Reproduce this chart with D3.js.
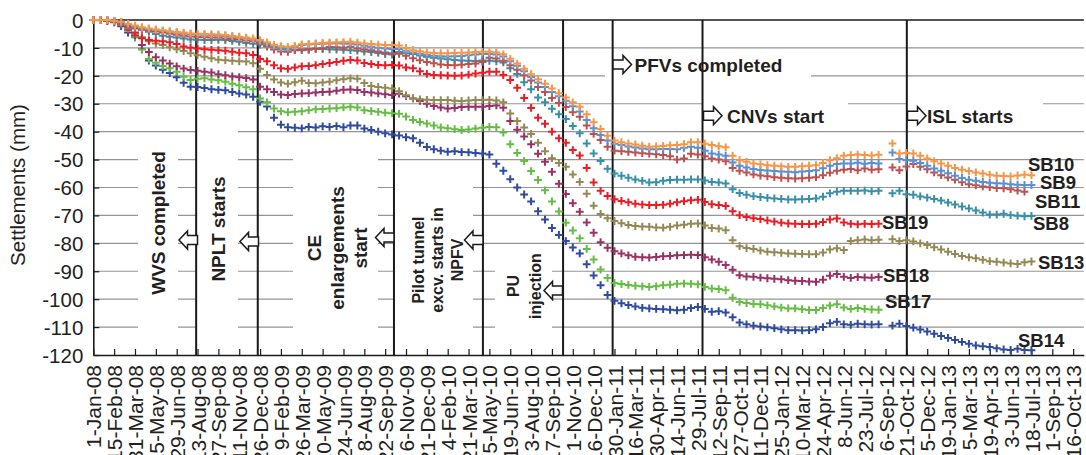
<!DOCTYPE html>
<html><head><meta charset="utf-8">
<script src="https://cdn.jsdelivr.net/npm/d3@7"></script>
<style>
html,body{margin:0;padding:0;background:#fff;overflow:hidden}
svg{display:block}
text{font-family:"Liberation Sans",Arial,Helvetica,sans-serif}
</style></head><body>
<svg id="chart" width="1086" height="455"></svg>
<script>
// ---------------- DATA ----------------
const startDate = "2008-01-01";
const endDate = "2013-11-08";
// sample days (offset in days from 1-Jan-2008)
const sampleDays = [0,15,30,45,60,75,90,105,120,135,150,165,180,195,210,225,240,255,270,285,
300,315,330,345,360,375,390,405,420,435,450,465,480,495,510,525,540,555,570,585,
600,615,630,645,660,675,690,705,720,735,750,765,780,795,810,825,840,855,870,885,
900,915,930,945,960,975,990,1005,1020,1035,1050,1065,1080,1095,1110,1125,1140,1155,1170,1185,
1200,1215,1230,1245,1260,1275,1290,1305,1320,1335,1350,1365,1380,1395,1410,1425,1440,1455,1470,1485,
1500,1515,1530,1545,1560,1575,1590,1605,1620,1635,1650,1665,1680,1695,1710,1725,1740,1755,1770,1785,
1800,1815,1830,1845,1860,1875,1890,1905,1920,1935,1950,1965,1980,1995,2010,2025];

const SB14 = [0,0,-0.3,-0.8,-2.2,-4.5,-6.2,-10.5,-14.5,-16.3,
-17.8,-19,-20.5,-22.5,-23.9,-24,-24.4,-24.8,-25,-25.2,
-25.8,-26.3,-26.7,-27.5,-29.3,-31,-35,-37.5,-38.4,-38.6,
-38.8,-38.3,-38.5,-38.1,-38.3,-38,-38.4,-37.8,-37.8,-38.9,
-39.4,-40,-40.6,-41,-41.4,-42,-42.4,-44,-45.5,-46.3,
-46.8,-47.2,-47,-47.3,-47.4,-47.6,-47.8,-48.2,-51.5,-54,
-57,-60,-62.5,-65,-68.5,-71.5,-74.5,-77,-79.2,-81.5,
-83.6,-87.5,-91.5,-95,-98.5,-100.6,-101.5,-102.1,-102.6,-103.1,
-103.3,-103.5,-103.6,-103.8,-104,-103.8,-103.2,-102.8,-103.5,-104.5,
-104.3,-104.8,-106.5,-108.4,-109,-109.5,-109.8,-110.1,-110.4,-110.8,
-111.1,-111.1,-111.2,-111.1,-110.8,-110,-108.6,-108.1,-109,-109.2,
-108.8,-109,-109.1,-109,null,-109.5,-108.8,-109.6,-110.2,-110.9,
-111.6,-112.4,-113.2,-113.9,-114.6,-115.3,-116,-116.6,-116.9,-117.1,
-117.6,-118,-118.2,-117.8,-118.2,-118.3];

const SB17 = [0,0,-0.2,-0.5,-1.5,-3.5,-6,-10.5,-14,-15.3,
-16.5,-17.3,-18.5,-20.3,-21.5,-21,-20.9,-21.3,-21.6,-22.1,
-22.8,-23.4,-24.1,-24.8,-28.1,-29.5,-31.7,-32.7,-33,-32.9,
-32.7,-32.3,-32,-31.9,-31.7,-31.6,-31.3,-31.1,-31.3,-32.3,
-32.6,-32.9,-33.2,-33.4,-33.6,-34.6,-35.8,-36.5,-37.1,-37.8,
-38.5,-38.8,-39.1,-39.4,-39.2,-38.9,-38.6,-38.3,-38.4,-40.3,
-44.5,-47.6,-50.5,-54.1,-57.3,-61,-65,-68.6,-72.6,-75.4,
-78.2,-82,-85.8,-89.4,-92.4,-94.2,-94.6,-94.9,-95.2,-95.4,
-95.6,-95.4,-95,-94.8,-94.5,-94.4,-94.5,-94.7,-95.6,-96.2,
-96.4,-96.8,-99.5,-101,-101.4,-101.7,-101.8,-102.2,-102.6,-103,
-103.3,-103.3,-103.6,-103.9,-103.9,-103.2,-102.3,-101.8,-103,-103.5,
-103.2,-103.5,-103.7,-103.8];

const SB18 = [0,0,-0.2,-0.5,-1.5,-3.5,-5.5,-9,-11.5,-13.3,
-14.5,-15.6,-16.6,-17.4,-17.9,-18.2,-18.5,-18.8,-19.4,-19.8,
-20.2,-20.5,-20.8,-21.3,-23.9,-24.8,-25.8,-26.7,-26.9,-26.5,
-26.3,-26.2,-26,-25.8,-25.7,-25.3,-25,-24.9,-25.1,-25.8,
-26,-26.3,-26.6,-26.9,-26.4,-27.3,-28.1,-29,-30,-30.8,
-31.3,-31.7,-31.5,-31.2,-31.1,-31.1,-31.1,-30.8,-30.6,-31.4,
-36.2,-39.3,-41.7,-44.5,-47.9,-50.8,-54.4,-58.7,-62.3,-65.6,
-68.7,-72.5,-76.2,-79.6,-81.6,-82.8,-83.6,-84.3,-84.8,-85,
-85.1,-84.9,-84.6,-84.5,-84.3,-84.2,-84.1,-84.2,-85,-85.8,
-86.6,-87.8,-89.5,-91.4,-91.9,-92,-92.3,-92.5,-92.7,-92.9,
-93.2,-93.4,-93.5,-93.7,-93.8,-93,-91.6,-91,-92,-92.4,
-92.1,-92.2,-92.3,-92.1];

const SB13 = [0,0,-0.2,-0.5,-1.5,-3,-4.8,-6.2,-7.6,-8.4,
-9,-9.8,-10.5,-11.1,-11.9,-12.6,-13.2,-13.7,-14.2,-14.4,
-14.6,-14.8,-14.9,-15.5,-17.5,-19.7,-21.3,-22.4,-22.8,-22.3,
-21.8,-22.6,-22.7,-22.4,-22.1,-21.6,-21.2,-20.9,-21,-22.6,
-23.6,-24,-24.3,-24.5,-25.5,-27,-28.1,-28.4,-28.6,-28.7,
-28.7,-28.7,-28.9,-29,-28.8,-28.7,-28.7,-28.6,-28.8,-29.5,
-33.5,-36.2,-38.5,-40.8,-44,-47,-49.5,-51.2,-52.6,-55.3,
-58,-62.2,-66.5,-69.5,-71,-72,-72.8,-73.4,-73.8,-74,
-74.1,-74.3,-74.4,-74.1,-73.6,-73.3,-73,-72.9,-73.6,-74.5,
-74.7,-75.3,-78.9,-81,-81.7,-82,-82.6,-83,-83.2,-83.4,
-83.6,-83.7,-83.8,-83.9,-83.9,-83.3,-82.2,-81.8,-82.4,-79.2,
-78.9,-78.6,-78.9,-78.7,null,-78.5,-79.2,-78.9,-79.3,-80,
-80.6,-81.4,-82.2,-83,-83.8,-84.5,-85,-85.3,-85.9,-86.4,
-86.6,-86.9,-87.2,-87.4,-86.8,-86.5];

const SB19 = [0,0,-0.2,-0.5,-1.2,-2.5,-4.5,-6.5,-7.2,-7.4,
-7.6,-8,-8.6,-9.5,-9.9,-10.2,-10.5,-10.7,-10.8,-11,
-11.4,-11.7,-11.9,-12.5,-14,-14.8,-16.2,-17.3,-17.5,-17,
-16.6,-16.5,-16.2,-15.8,-15.4,-15,-14.6,-14.3,-14.5,-15.4,
-15.8,-16.1,-16.2,-16.1,-16.3,-17,-17.3,-18.4,-19.3,-19.7,
-19.8,-19.9,-20,-19.9,-19.6,-19.2,-18.9,-18.5,-18.5,-19.7,
-21.5,-24.3,-27.9,-31.5,-35,-37.2,-40,-42.4,-44,-46.6,
-48.5,-53,-58.2,-61.2,-63,-64.2,-64.8,-65.3,-65.8,-66.1,
-66.3,-66.3,-66.2,-65.8,-65.3,-64.9,-64.6,-64.4,-65.2,-66,
-66.3,-66.6,-68.5,-69.9,-70.6,-71,-71.3,-71.8,-72.2,-72.6,
-72.9,-73,-73.1,-73.1,-73,-72.4,-71.5,-71.1,-72.5,-73,
-73.2,-73,-73.1,-73];

const SB8 = [0,0,0,-0.3,-0.8,-1.8,-2.8,-3.5,-4.2,-5,
-5.6,-6,-6.3,-6.6,-7,-7.1,-7.2,-7.2,-7.1,-7.2,
-7.5,-7.8,-8.2,-8.5,-8.8,-9.2,-9.8,-10.4,-10.6,-10.7,
-10.8,-10.4,-10.3,-10.4,-10.5,-10.6,-10.7,-10.8,-11,-11.3,
-11.5,-11.8,-12.2,-12.4,-11.5,-11.9,-12.2,-12.7,-13.2,-13.5,
-13.8,-14.1,-14.3,-14.5,-14.6,-14.7,-14.5,-14.6,-14.8,-15.2,
-17.3,-19.3,-22.3,-24.8,-27.8,-29.5,-31.8,-33.8,-35.5,-38,
-40.6,-44.2,-47.8,-50.5,-53.3,-55,-55.8,-56.5,-57.1,-57.6,
-58.2,-58.1,-57.6,-57.3,-57.2,-57.2,-57.1,-57.1,-57.5,-58,
-58.2,-58.6,-60.6,-62,-62.6,-63.1,-63.4,-63.7,-63.9,-64.1,
-64.3,-64.3,-64.2,-64.1,-63.9,-63.3,-62.1,-61.5,-61.2,-61.2,
-61.2,-61.1,-61.3,-61.2,null,-62.1,-61.2,-62.4,-62.6,-63.2,
-63.6,-64.1,-64.7,-65.4,-66.1,-66.8,-67.5,-68.2,-69,-69.7,
-69.7,-69.4,-69.9,-70.1,-70.3,-70.2];

const SB11 = [0,0,0,-0.5,-1.5,-2.4,-3,-3.4,-3.7,-4.1,
-4.5,-4.9,-5.3,-5.6,-5.9,-6.1,-6.2,-6.3,-6.3,-6.6,
-6.8,-7,-7.3,-7.6,-8.2,-9.5,-10.6,-11.3,-11.4,-10.8,
-10.5,-10.7,-10.3,-10.1,-9.7,-9.8,-9.9,-9.6,-10.2,-10.6,
-10.8,-11.3,-11.6,-11.9,-12.1,-12.8,-13.7,-14.4,-15,-15.5,
-15.9,-16.1,-16.2,-16,-15.8,-15.6,-15,-13.5,-13.8,-14.6,
-16.2,-17.8,-19.8,-21.7,-24,-25.8,-27.9,-29.7,-31.2,-33,
-34.7,-37.8,-40.8,-43,-45.4,-46.8,-47,-47.2,-47.5,-47.7,
-47.9,-48.1,-48.4,-48.8,-50,-49.6,-47.9,-48.2,-48.8,-49.6,
-50,-50.6,-53,-54,-54.6,-55.3,-55.7,-56,-56.3,-56.5,
-56.7,-56.8,-56.7,-56.5,-56.3,-55.6,-54.7,-54,-53.6,-53.4,
-53.8,-53.2,-53.6,-53.5,null,-52.8,-53.8,-52.5,-51.6,-52.6,
-53.5,-54.6,-55.6,-56.4,-57.2,-58.1,-58.8,-59.2,-59.6,-59.9,
-60.2,-60.3,-60.6,-61.1,-61.5];

const SB9 = [0,0,0,-0.3,-0.8,-1.6,-2.4,-3,-3.3,-3.6,
-3.9,-4.2,-4.5,-4.8,-5,-5.2,-5.3,-5.4,-5.5,-5.7,
-6,-6.3,-6.5,-6.9,-7.6,-8.6,-9.5,-10.1,-10.2,-9.6,
-9,-8.8,-8.6,-8.5,-8.4,-8.3,-8.4,-8.5,-8.8,-9.2,
-9.6,-9.9,-10.2,-10.4,-10.4,-11,-11.6,-12.1,-12.5,-12.8,
-13,-13.1,-13,-12.9,-12.6,-12.4,-12.2,-12.2,-12.4,-13.1,
-14.8,-16.4,-18.4,-20.4,-22.4,-24,-25.8,-27.3,-28.9,-30.9,
-32.8,-35.8,-38.8,-41.2,-43.2,-44.3,-44.8,-45.3,-45.7,-46,
-46.3,-46.3,-46.2,-46.2,-46.3,-45.8,-45.4,-45.8,-46.8,-47.8,
-48.2,-48.6,-51,-52.2,-52.8,-53.4,-53.7,-53.9,-54.1,-54.3,
-54.4,-54.5,-54.3,-54.1,-53.8,-53.1,-52.2,-51.6,-51.4,-51.4,
-51.1,-51.5,-51.2,-51.4,null,-47.5,-49.8,-50.2,-50.4,-51.2,
-52.2,-53.2,-54,-54.9,-55.8,-56.6,-57.2,-57.6,-58,-58.3,
-58.5,-58.6,-58.8,-59,-59.1,-59.1];

const SB10 = [0,0,0,-0.3,-0.6,-1.3,-2,-2.6,-3,-3.4,
-3.7,-4,-4.3,-4.5,-4.8,-4.9,-5,-5.1,-5.2,-5.4,
-5.7,-6,-6.3,-6.6,-7.2,-8,-8.9,-9.4,-9.6,-9.3,
-8.7,-8.6,-8.4,-8.2,-8.1,-8,-7.9,-7.8,-8.1,-8.4,
-8.6,-8.8,-9,-9,-9.1,-10,-10.8,-11.2,-11.6,-11.8,
-11.9,-11.9,-11.8,-11.7,-11.6,-11.5,-11.4,-11.4,-11.6,-12.3,
-13.9,-15.6,-17.5,-19.4,-21.2,-22.8,-24.5,-26.2,-27.8,-29.5,
-31.1,-33.8,-36.6,-39,-41.5,-43.2,-43.8,-44.2,-44.6,-45,
-45.4,-45.3,-45.1,-44.9,-44.8,-44.5,-43.8,-43.8,-44.3,-44.8,
-45.2,-45.6,-48.6,-50.2,-50.8,-51.4,-51.7,-52,-52.2,-52.4,
-52.6,-52.6,-52.4,-52.2,-52,-51.2,-50.2,-49.5,-48.6,-48.4,
-48.2,-48.4,-48.5,-48.3,null,-44.2,-47.8,-47.6,-47.8,-48.6,
-49.6,-50.6,-51.4,-52.2,-53,-53.6,-54.1,-54.6,-55,-55.4,
-55.8,-55.9,-56,-55.7,-55.4,-55.6];

const seriesNames = ["SB14","SB17","SB18","SB13","SB19","SB8","SB11","SB9","SB10"];
const seriesValues = [SB14,SB17,SB18,SB13,SB19,SB8,SB11,SB9,SB10];
const seriesColors = ["#2f4b9f","#66bd44","#9a3164","#938953","#ed1c24","#3690a8","#c0504d","#5a8fd6","#f79646"];

const tickLabels = ["1-Jan-08","15-Feb-08","31-Mar-08","15-May-08","29-Jun-08","13-Aug-08","27-Sep-08","11-Nov-08",
"26-Dec-08","9-Feb-09","26-Mar-09","10-May-09","24-Jun-09","8-Aug-09","22-Sep-09","6-Nov-09","21-Dec-09",
"4-Feb-10","21-Mar-10","5-May-10","19-Jun-10","3-Aug-10","17-Sep-10","1-Nov-10","16-Dec-10","30-Jan-11",
"16-Mar-11","30-Apr-11","14-Jun-11","29-Jul-11","12-Sep-11","27-Oct-11","11-Dec-11","25-Jan-12","10-Mar-12",
"24-Apr-12","8-Jun-12","23-Jul-12","6-Sep-12","21-Oct-12","5-Dec-12","19-Jan-13","5-Mar-13","19-Apr-13",
"3-Jun-13","18-Jul-13","1-Sep-13","16-Oct-13"];
const yTicks = [0,-10,-20,-30,-40,-50,-60,-70,-80,-90,-100,-110,-120];

const eventDates = ["2008-08-10","2008-12-21","2009-10-11","2010-04-21","2010-10-11","2011-01-26","2011-08-08","2012-10-22"];
const eventTextsVertical = [["WVS completed"],["NPLT starts"],["CE","enlargements","start"],["Pilot tunnel","excv. starts in","NPFV"],["PU","injection"]];
const eventTextsHorizontal = ["PFVs completed","CNVs start","ISL starts"];
const yTitle = "Settlements (mm)";

// ---------------- CHART ----------------
const svg = d3.select("#chart");
const FONT = '"Liberation Sans", Arial, Helvetica, sans-serif';
const TXT = "#231f20";
const parseISO = d3.utcParse("%Y-%m-%d");
const t0 = parseISO(startDate);
const dayToDate = d => d3.utcDay.offset(t0, d);

const x = d3.scaleUtc().domain([t0, parseISO(endDate)]).range([93.3, 1083.8]);
const y = d3.scaleLinear().domain([-120, 0]).range([355, 20]);
const [X0, X1] = x.range();

// gridlines
svg.append("g").selectAll("line").data(yTicks.filter(v => v !== 0 && v !== -120)).join("line")
  .attr("x1", X0).attr("x2", X1).attr("y1", d => y(d)).attr("y2", d => y(d))
  .attr("stroke", "#959595").attr("stroke-width", 1.2);

// white text boxes (cover gridlines)
const boxes = [[138,140,40,195],[197,122,41,213],[293,140,85,195],[395,165,78,170],[495,248,57,87],
               [605,50,206,45],[703,90,145,35],[907,90,136,35]];
svg.append("g").selectAll("rect").data(boxes).join("rect")
  .attr("x", d => d[0]).attr("y", d => d[1]).attr("width", d => d[2]).attr("height", d => d[3])
  .attr("fill", "#fff");

// event lines
const evX = eventDates.map(s => x(parseISO(s)));
svg.append("g").selectAll("line").data(evX).join("line")
  .attr("x1", d => d).attr("x2", d => d).attr("y1", y(0)).attr("y2", y(-120))
  .attr("stroke", "#1a1a1a").attr("stroke-width", 2);

// top frame line
svg.append("line").attr("x1", X0).attr("x2", X1).attr("y1", y(0)).attr("y2", y(0))
  .attr("stroke", "#1a1a1a").attr("stroke-width", 1.6);

// x axis
const tickParse = d3.utcParse("%d-%b-%y");
const tickDates = tickLabels.map((s, i) => tickParse(s) || dayToDate(45 * i));
const gx = svg.append("g").attr("transform", `translate(0,${y(-120)})`)
  .call(d3.axisBottom(x).tickValues(tickDates).tickFormat((d, i) => tickLabels[i]).tickSizeInner(-6).tickSizeOuter(0));
gx.attr("font-family", FONT).attr("font-size", 21);
gx.select(".domain").attr("stroke", "#1a1a1a").attr("stroke-width", 1.6);
gx.selectAll(".tick line").attr("stroke", "#1a1a1a").attr("stroke-width", 1.2);
gx.selectAll(".tick text").attr("transform", "rotate(-90)").attr("text-anchor", "end")
  .attr("x", -10).attr("y", 0).attr("dy", "0.36em").attr("fill", TXT);

// y axis
const gy = svg.append("g").attr("transform", `translate(${X0},0)`)
  .call(d3.axisLeft(y).tickValues(yTicks).tickFormat(d => String(d)).tickSizeInner(-6).tickSizeOuter(0).tickPadding(10));
gy.attr("font-family", FONT).attr("font-size", 20.5);
gy.select(".domain").attr("stroke", "#1a1a1a").attr("stroke-width", 1.6);
gy.selectAll(".tick line").attr("stroke", "#1a1a1a").attr("stroke-width", 1.2);
gy.selectAll(".tick text").attr("fill", TXT).attr("dy", "0.35em");

// data markers (+)
const cross = "M-3.9,0H3.9M0,-3.9V3.9";
seriesNames.forEach((name, si) => {
  const pts = seriesValues[si].map((v, i) => ({d: sampleDays[i], v})).filter(p => p.v !== null && p.v !== undefined);
  svg.append("g").attr("stroke", seriesColors[si]).attr("stroke-width", 2).attr("fill", "none")
    .selectAll("path").data(pts).join("path")
    .attr("d", cross)
    .attr("transform", p => `translate(${x(dayToDate(p.d)).toFixed(2)},${y(p.v).toFixed(2)})`);
});

// vertical annotation texts
const vLayout = [
  {xs:[158.3], cy:223, fs:19},
  {xs:[218.3], cy:229, fs:19},
  {xs:[314, 336.7, 360], cy:248, fs:19},
  {xs:[418, 437.5, 457], cy:260, fs:16},
  {xs:[513, 535], cy:286, fs:16}
];
eventTextsVertical.forEach((lines, k) => {
  const L = vLayout[k];
  lines.forEach((t, j) => {
    svg.append("text").attr("transform", `translate(${L.xs[j]},${L.cy}) rotate(-90)`)
      .attr("text-anchor", "middle").attr("dy", "0.36em")
      .attr("font-family", FONT).attr("font-weight", "bold").attr("font-size", L.fs)
      .attr("fill", TXT).text(t);
  });
});

// horizontal annotation texts
const hLayout = [{x:634.5, y:65},{x:727, y:116},{x:927, y:116}];
eventTextsHorizontal.forEach((t, k) => {
  svg.append("text").attr("x", hLayout[k].x).attr("y", hLayout[k].y).attr("dy", "0.36em")
    .attr("font-family", FONT).attr("font-weight", "bold").attr("font-size", 19)
    .attr("fill", TXT).text(t);
});

// block arrows
const arrowRight = "M0,-4.5H10V-9L18.5,0L10,9V4.5H0Z";
const arrowLeft  = "M0,0L8.5,-9V-4.5H18.5V4.5H8.5V9Z";
const arrows = [
  {p:arrowLeft, x:179, y:240}, {p:arrowLeft, x:240, y:241.5}, {p:arrowLeft, x:375.5, y:237.5},
  {p:arrowLeft, x:464.5, y:240}, {p:arrowLeft, x:544, y:290.5},
  {p:arrowRight, x:613, y:64.5}, {p:arrowRight, x:703.5, y:115.7}, {p:arrowRight, x:907.5, y:115.7}
];
svg.append("g").selectAll("path").data(arrows).join("path")
  .attr("d", d => d.p).attr("transform", d => `translate(${d.x},${d.y})`)
  .attr("fill", "#fff").attr("stroke", "#1a1a1a").attr("stroke-width", 1.5).attr("stroke-linejoin", "miter");

// series labels
const labelPos = {SB10:[1028,164], SB9:[1040,182.5], SB11:[1035,201], SB8:[1033,223], SB19:[882,222],
                  SB13:[1038,262], SB18:[883,275], SB17:[885,301], SB14:[1018,340]};
seriesNames.forEach(n => {
  svg.append("text").attr("x", labelPos[n][0]).attr("y", labelPos[n][1]).attr("dy", "0.36em")
    .attr("font-family", FONT).attr("font-weight", "bold").attr("font-size", 18.5)
    .attr("fill", TXT).text(n);
});

// y title
svg.append("text").attr("transform", "translate(18,185) rotate(-90)").attr("text-anchor", "middle")
  .attr("dy", "0.36em").attr("font-family", FONT).attr("font-size", 20.5).attr("fill", TXT).text(yTitle);
</script>
</body></html>
